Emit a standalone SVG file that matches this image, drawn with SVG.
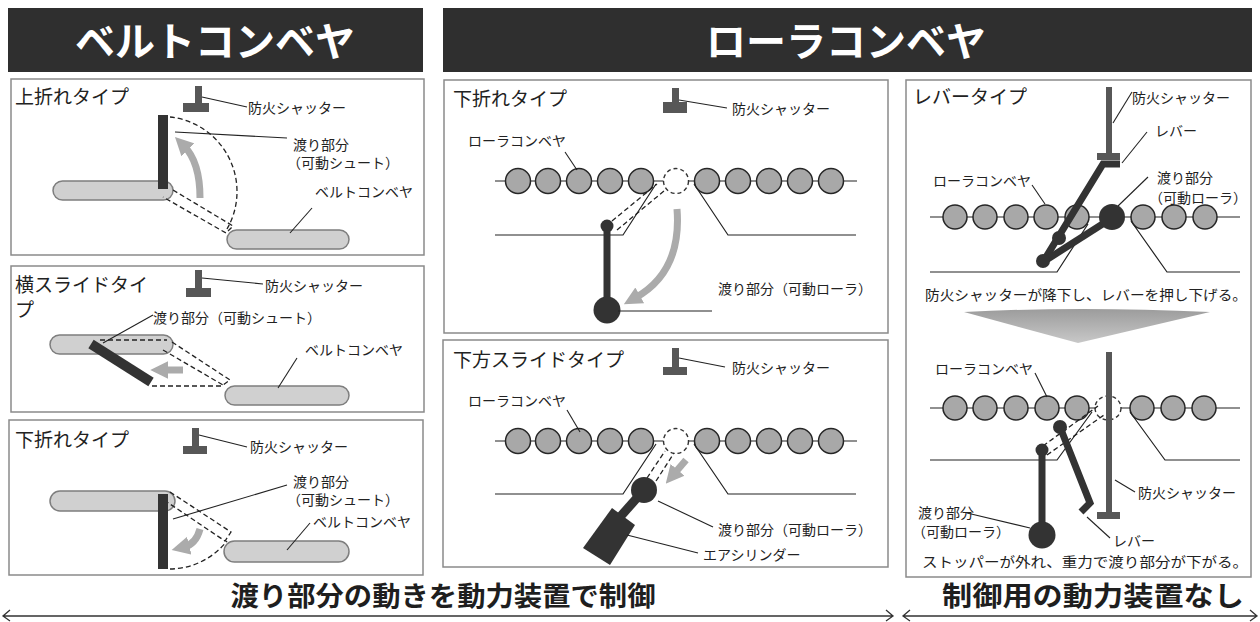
<svg xmlns="http://www.w3.org/2000/svg" width="1260" height="622" viewBox="0 0 1260 622">
  <style>
    text { font-family: "Noto Sans CJK JP", "Noto Sans CJK SC", sans-serif; fill: #222; }
    .ht { font-size: 40px; font-weight: bold; fill: #fff; }
    .tt { font-size: 19px; }
    .lb { font-size: 14px; }
    .bt { font-size: 27px; font-weight: bold; fill: #1e1e1e; }
    .hd { fill: #2f2f2f; }
    .pn { fill: #fff; stroke: #8a8a8a; stroke-width: 1.5; }
    .sh { fill: #575757; }
    .dk { fill: #333; }
    .belt { fill: #d0d0d0; stroke: #7e7e7e; stroke-width: 1.5; }
    .rl { fill: #a8a8a8; stroke: #262626; stroke-width: 1.5; }
    .ax { stroke: #222; stroke-width: 1.2; fill: none; }
    .ds { stroke: #222; stroke-width: 1.3; stroke-dasharray: 5 3; fill: none; }
    .dc { fill: #fff; stroke: #333; stroke-width: 1.4; stroke-dasharray: 4 3; }
    .ga { stroke: #ababab; stroke-width: 7; fill: none; marker-end: url(#gh); }
    .ld { stroke: #222; stroke-width: 1.1; fill: none; }
    .bar { stroke: #333; stroke-width: 7; fill: none; }
    .ar { stroke: #333; stroke-width: 1.3; fill: none; }
  </style>
  <defs>
    <marker id="gh" viewBox="0 0 10 10" refX="3" refY="5" markerWidth="2.6" markerHeight="2.8" orient="auto">
      <path d="M0,0 L10,5 L0,10 z" fill="#ababab"/>
    </marker>
    <linearGradient id="down" x1="0" y1="0" x2="0" y2="1">
      <stop offset="0" stop-color="#9c9c9c"/>
      <stop offset="1" stop-color="#c8c8c8"/>
    </linearGradient>
  </defs>

  <rect width="1260" height="622" fill="#fff"/>

  <!-- section headers -->
  <g id="header-belt">
    <rect class="hd" x="8" y="8" width="415" height="64"/>
    <text class="ht" x="215" y="56" text-anchor="middle">ベルトコンベヤ</text>
  </g>
  <g id="header-roller">
    <rect class="hd" x="443" y="8" width="809" height="64"/>
    <text class="ht" x="846" y="56" text-anchor="middle">ローラコンベヤ</text>
  </g>

  <!-- belt conveyor: upward fold -->
  <g id="belt-upfold">
    <rect class="pn" x="11" y="79" width="413" height="176"/>
    <text class="tt" x="15" y="104">上折れタイプ</text>
    <rect class="sh" x="195" y="86" width="7" height="18"/>
    <rect class="sh" x="183" y="103" width="26" height="9"/>
    <text class="lb" x="248" y="113">防火シャッター</text>
    <rect class="belt" x="53" y="181" width="120" height="19" rx="9.5"/>
    <rect class="belt" x="227" y="230" width="122" height="19" rx="9.5"/>
    <path class="ds" d="M170,117 A75,75 0 0 1 227,229"/>
    <path class="ds" d="M173,190 L233,226 L226,233 L163,197"/>
    <rect class="dk" x="158" y="115" width="10" height="74"/>
    <path class="ga" d="M200,198 Q200,162 184,146"/>
    <text class="lb" x="293" y="150">渡り部分</text>
    <text class="lb" x="287" y="168">（可動シュート）</text>
    <text class="lb" x="315" y="197">ベルトコンベヤ</text>
  </g>

  <!-- belt conveyor: sideways slide -->
  <g id="belt-slide">
    <rect class="pn" x="11" y="266" width="413" height="146"/>
    <text class="tt" x="15" y="292">横スライドタイ</text>
    <text class="tt" x="15" y="317">プ</text>
    <rect class="sh" x="195" y="270" width="7" height="19"/>
    <rect class="sh" x="186" y="288" width="25" height="9"/>
    <text class="lb" x="265" y="291">防火シャッター</text>
    <text class="lb" x="153" y="323">渡り部分（可動シュート）</text>
    <rect class="belt" x="50" y="335" width="123" height="19" rx="9.5"/>
    <rect class="belt" x="225" y="386" width="124" height="19" rx="9.5"/>
    <path class="ds" d="M100,340 L167,340 M172,342 L230,380 L223,385 M163,350 L223,385 M152,386 L222,386"/>
    <line x1="91" y1="344" x2="151" y2="382" stroke="#333" stroke-width="10"/>
    <path class="ga" d="M183,370 L163,370"/>
    <text class="lb" x="305" y="355">ベルトコンベヤ</text>
  </g>

  <!-- belt conveyor: downward fold -->
  <g id="belt-downfold">
    <rect class="pn" x="9" y="420" width="414" height="155"/>
    <text class="tt" x="15" y="447">下折れタイプ</text>
    <rect class="sh" x="192" y="428" width="7" height="19"/>
    <rect class="sh" x="183" y="446" width="24" height="8"/>
    <text class="lb" x="250" y="452">防火シャッター</text>
    <rect class="belt" x="50" y="491" width="125" height="20" rx="10"/>
    <rect class="belt" x="224" y="541" width="125" height="21" rx="10.5"/>
    <path class="ds" d="M170,569 A74,74 0 0 0 227,541"/>
    <path class="ds" d="M170,492 L231,532 L225,541 L167,502"/>
    <rect class="dk" x="158" y="494" width="10" height="75"/>
    <path class="ga" d="M200,529 Q196,544 184,547"/>
    <text class="lb" x="293" y="487">渡り部分</text>
    <text class="lb" x="287" y="505">（可動シュート）</text>
    <text class="lb" x="313" y="527">ベルトコンベヤ</text>
  </g>

  <!-- roller conveyor: downward fold -->
  <g id="roller-downfold">
    <rect class="pn" x="444" y="80" width="444" height="253"/>
    <text class="tt" x="453" y="106">下折れタイプ</text>
    <rect class="sh" x="672" y="88" width="7" height="15"/>
    <rect class="sh" x="663" y="102" width="24" height="11"/>
    <text class="lb" x="732" y="114">防火シャッター</text>
    <text class="lb" x="468" y="146">ローラコンベヤ</text>
    <line class="ax" x1="495" y1="181" x2="857" y2="181"/>
    <circle class="rl" cx="518" cy="181" r="12.5"/>
    <circle class="rl" cx="548" cy="181" r="12.5"/>
    <circle class="rl" cx="579" cy="181" r="12.5"/>
    <circle class="rl" cx="610" cy="181" r="12.5"/>
    <circle class="rl" cx="641" cy="181" r="12.5"/>
    <circle class="dc" cx="676" cy="181" r="12.5"/>
    <circle class="rl" cx="707" cy="181" r="12.5"/>
    <circle class="rl" cx="738" cy="181" r="12.5"/>
    <circle class="rl" cx="769" cy="181" r="12.5"/>
    <circle class="rl" cx="800" cy="181" r="12.5"/>
    <circle class="rl" cx="831" cy="181" r="12.5"/>
    <path class="ax" d="M495,235 L623,235 L656,184 M694,184 L728,235 L856,235"/>
    <path class="ds" d="M612,221 L657,184 M617,230 L664,191"/>
    <line class="bar" x1="607" y1="227" x2="607" y2="310"/>
    <circle class="dk" cx="607" cy="226" r="6.5"/>
    <circle class="dk" cx="607" cy="310" r="13.5"/>
    <line class="ax" x1="618" y1="311" x2="712" y2="311"/>
    <path class="ga" d="M677,209 Q682,272 635,298"/>
    <text class="lb" x="718" y="294">渡り部分（可動ローラ）</text>
  </g>

  <!-- roller conveyor: downward slide -->
  <g id="roller-slide">
    <rect class="pn" x="443" y="340" width="445" height="227"/>
    <text class="tt" x="453" y="367">下方スライドタイプ</text>
    <rect class="sh" x="672" y="348" width="7" height="20"/>
    <rect class="sh" x="663" y="367" width="24" height="8"/>
    <text class="lb" x="732" y="373">防火シャッター</text>
    <text class="lb" x="468" y="406">ローラコンベヤ</text>
    <line class="ax" x1="495" y1="441" x2="857" y2="441"/>
    <circle class="rl" cx="518" cy="441" r="12.5"/>
    <circle class="rl" cx="548" cy="441" r="12.5"/>
    <circle class="rl" cx="579" cy="441" r="12.5"/>
    <circle class="rl" cx="610" cy="441" r="12.5"/>
    <circle class="rl" cx="641" cy="441" r="12.5"/>
    <circle class="dc" cx="676" cy="441" r="12.5"/>
    <circle class="rl" cx="707" cy="441" r="12.5"/>
    <circle class="rl" cx="738" cy="441" r="12.5"/>
    <circle class="rl" cx="769" cy="441" r="12.5"/>
    <circle class="rl" cx="800" cy="441" r="12.5"/>
    <circle class="rl" cx="831" cy="441" r="12.5"/>
    <path class="ax" d="M495,494 L623,494 L656,444 M694,444 L728,494 L856,494"/>
    <path class="ds" d="M647,478 L665,451 M656,481 L674,453"/>
    <line x1="644" y1="490" x2="620" y2="517" stroke="#333" stroke-width="9"/>
    <polygon class="dk" points="583,548 610,565 635,525 612,508"/>
    <circle class="dk" cx="644" cy="490" r="13"/>
    <path class="ga" d="M686,460 L674,474"/>
    <text class="lb" x="718" y="535">渡り部分（可動ローラ）</text>
    <text class="lb" x="703" y="560">エアシリンダー</text>
  </g>

  <!-- roller conveyor: lever type (no drive) -->
  <g id="roller-lever">
    <rect class="pn" x="906" y="80" width="345" height="497"/>
    <text class="tt" x="913" y="104">レバータイプ</text>

    <!-- upper state: shutter descending onto the lever -->
    <rect class="sh" x="1106" y="87" width="6" height="67"/>
    <rect class="sh" x="1097" y="153" width="23" height="7"/>
    <text class="lb" x="1132" y="103">防火シャッター</text>
    <text class="lb" x="1155" y="136">レバー</text>
    <text class="lb" x="933" y="186">ローラコンベヤ</text>
    <text class="lb" x="1157" y="183">渡り部分</text>
    <text class="lb" x="1149" y="203">（可動ローラ）</text>
    <line class="ax" x1="930" y1="217" x2="1240" y2="217"/>
    <circle class="rl" cx="955" cy="217" r="12"/>
    <circle class="rl" cx="985" cy="217" r="12"/>
    <circle class="rl" cx="1016" cy="217" r="12"/>
    <circle class="rl" cx="1046" cy="217" r="12"/>
    <circle class="rl" cx="1077" cy="217" r="12"/>
    <circle class="rl" cx="1143" cy="217" r="12"/>
    <circle class="rl" cx="1174" cy="217" r="12"/>
    <circle class="rl" cx="1205" cy="217" r="12"/>
    <path class="ax" d="M930,272 L1057,272 L1088,224 M1131,221 L1167,272 L1240,272"/>
    <path class="bar" d="M1120,164 L1103,164 L1043,262"/>
    <line class="bar" x1="1112" y1="218" x2="1043" y2="262"/>
    <circle class="dk" cx="1059" cy="238" r="7"/>
    <circle class="dk" cx="1043" cy="261" r="7"/>
    <circle class="dk" cx="1112" cy="217" r="13"/>
    <text class="lb" x="925" y="300" textLength="322" lengthAdjust="spacingAndGlyphs">防火シャッターが降下し、レバーを押し下げる。</text>

    <path d="M964,312 Q1078,306 1210,312 L1078,343 Z" fill="url(#down)"/>

    <!-- lower state: stopper released, roller drops -->
    <text class="lb" x="935" y="374">ローラコンベヤ</text>
    <line class="ax" x1="930" y1="408" x2="1240" y2="408"/>
    <circle class="rl" cx="955" cy="408" r="12"/>
    <circle class="rl" cx="985" cy="408" r="12"/>
    <circle class="rl" cx="1016" cy="408" r="12"/>
    <circle class="rl" cx="1047" cy="408" r="12"/>
    <circle class="rl" cx="1077" cy="408" r="12"/>
    <ellipse class="dc" cx="1108" cy="408" rx="13" ry="12"/>
    <circle class="rl" cx="1142" cy="408" r="12"/>
    <circle class="rl" cx="1173" cy="408" r="12"/>
    <circle class="rl" cx="1204" cy="408" r="12"/>
    <path class="ax" d="M930,460 L1057,460 L1092,412 M1130,412 L1165,460 L1240,460"/>
    <path class="ds" d="M1043,446 L1098,406 M1047,455 L1104,415"/>
    <rect class="sh" x="1106" y="352" width="6" height="161"/>
    <rect class="sh" x="1097" y="512" width="23" height="7"/>
    <line class="bar" x1="1042" y1="450" x2="1042" y2="535"/>
    <circle class="dk" cx="1042" cy="450" r="6.5"/>
    <circle class="dk" cx="1042" cy="535" r="13.5"/>
    <path class="bar" d="M1060,427 L1090,503 L1081,512" stroke-width="8"/>
    <circle class="dk" cx="1060" cy="427" r="7"/>
    <text class="lb" x="1138" y="498">防火シャッター</text>
    <text class="lb" x="918" y="518">渡り部分</text>
    <text class="lb" x="912" y="537">（可動ローラ）</text>
    <text class="lb" x="1113" y="546">レバー</text>
    <text class="lb" x="922" y="567" textLength="326" lengthAdjust="spacingAndGlyphs">ストッパーが外れ、重力で渡り部分が下がる。</text>
  </g>

  <!-- range captions -->
  <g id="caption-powered">
    <text class="bt" x="443" y="606" text-anchor="middle" textLength="425" lengthAdjust="spacingAndGlyphs">渡り部分の動きを動力装置で制御</text>
  </g>
  <g id="caption-unpowered">
    <text class="bt" x="1093" y="606" text-anchor="middle" textLength="302" lengthAdjust="spacingAndGlyphs">制御用の動力装置なし</text>
  </g>

  <!-- leader lines and range arrows -->
  <g id="connectors">
    <path class="ld" d="M202,97 L247,107"/>
    <path class="ld" d="M175,132 L287,138"/>
    <path class="ld" d="M312,208 L290,233"/>
    <path class="ld" d="M202,278 L263,284"/>
    <path class="ld" d="M153,315 L103,343"/>
    <path class="ld" d="M297,358 L278,388"/>
    <path class="ld" d="M199,435 L247,447"/>
    <path class="ld" d="M173,519 L287,485"/>
    <path class="ld" d="M310,523 L287,550"/>
    <path class="ld" d="M679,100 L727,108"/>
    <path class="ld" d="M565,152 L577,170"/>
    <path class="ld" d="M679,358 L725,367"/>
    <path class="ld" d="M567,410 L580,432"/>
    <path class="ld" d="M658,501 L713,527"/>
    <path class="ld" d="M627,535 L698,553"/>
    <path class="ld" d="M1113,123 L1132,92"/>
    <path class="ld" d="M1122,163 L1147,132"/>
    <path class="ld" d="M1118,206 L1148,177"/>
    <path class="ld" d="M1032,185 L1045,204"/>
    <path class="ld" d="M1035,373 L1047,397"/>
    <path class="ld" d="M1115,480 L1135,492"/>
    <path class="ld" d="M967,513 L1030,528"/>
    <path class="ld" d="M1087,517 L1110,538"/>
    <path class="ar" d="M10,610 L3,616 L10,621 M3,616 L893,616 M886,610 L893,616 L886,621"/>
    <path class="ar" d="M910,610 L903,616 L910,621 M903,616 L1257,616 M1250,610 L1257,616 L1250,621"/>
  </g>
</svg>
